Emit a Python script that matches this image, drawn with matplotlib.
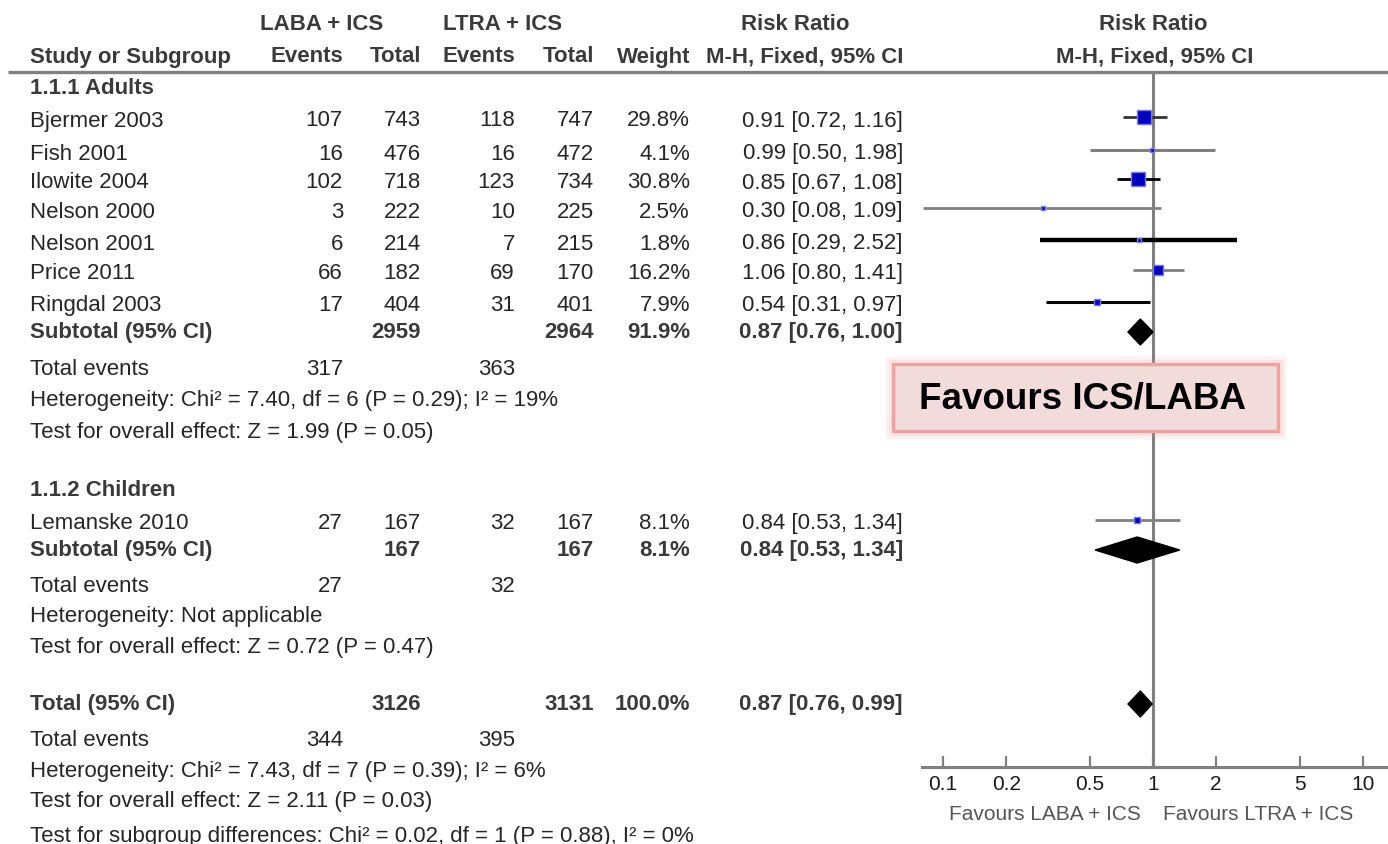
import numpy as np
from matplotlib import pyplot as plt
from matplotlib.patches import Polygon, FancyBboxPatch

plt.rcParams['font.family'] = ['Liberation Sans', 'DejaVu Sans']

# study level data, LABA + ICS vs LTRA + ICS
studies = ['Bjermer 2003', 'Fish 2001', 'Ilowite 2004', 'Nelson 2000',
           'Nelson 2001', 'Price 2011', 'Ringdal 2003']
laba_events = [107, 16, 102, 3, 6, 66, 17]
laba_total = [743, 476, 718, 222, 214, 182, 404]
ltra_events = [118, 16, 123, 10, 7, 69, 31]
ltra_total = [747, 472, 734, 225, 215, 170, 401]
weights = [29.8, 4.1, 30.8, 2.5, 1.8, 16.2, 7.9]
rr = [0.91, 0.99, 0.85, 0.30, 0.86, 1.06, 0.54]
rr_lo = [0.72, 0.50, 0.67, 0.08, 0.29, 0.80, 0.31]
rr_hi = [1.16, 1.98, 1.08, 1.09, 2.52, 1.41, 0.97]

child_study = 'Lemanske 2010'
child_data = dict(e1=27, n1=167, e2=32, n2=167, w=8.1, rr=0.84, lo=0.53, hi=1.34)

# pooled estimates: adults, children, overall
pooled_n1 = [2959, 167, 3126]
pooled_n2 = [2964, 167, 3131]
pooled_w = [91.9, 8.1, 100.0]
pooled_rr = [0.87, 0.84, 0.87]
pooled_lo = [0.76, 0.53, 0.76]
pooled_hi = [1.00, 1.34, 0.99]
pooled_ev1 = [317, 27, 344]
pooled_ev2 = [363, 32, 395]
het_text = ['Heterogeneity: Chi\u00b2 = 7.40, df = 6 (P = 0.29); I\u00b2 = 19%',
            'Heterogeneity: Not applicable',
            'Heterogeneity: Chi\u00b2 = 7.43, df = 7 (P = 0.39); I\u00b2 = 6%']
effect_text = ['Test for overall effect: Z = 1.99 (P = 0.05)',
               'Test for overall effect: Z = 0.72 (P = 0.47)',
               'Test for overall effect: Z = 2.11 (P = 0.03)']
subgroup_text = 'Test for subgroup differences: Chi\u00b2 = 0.02, df = 1 (P = 0.88), I\u00b2 = 0%'

ticks = [0.1, 0.2, 0.5, 1, 2, 5, 10]
tick_labels = ['0.1', '0.2', '0.5', '1', '2', '5', '10']

W, H = 1388, 845
fig = plt.figure(figsize=(W / 100, H / 100), dpi=100)

# layout axes in pixel units for the table part
lay = fig.add_axes([0, 0, 1, 1])
lay.set_xlim(0, W)
lay.set_ylim(H, 0)
lay.axis('off')

fs = 16
txt = '#262626'
bold_c = '#3a3a3a'
x_name, x_e1, x_n1, x_e2, x_n2, x_w, x_rr = 30, 343, 421, 515, 594, 690, 903


def row(y, name, e1='', n1='', e2='', n2='', w='', ci='', bold=False):
    fw = 'bold' if bold else 'normal'
    c = bold_c if bold else txt
    kw = dict(va='center', fontsize=fs, color=c, fontweight=fw)
    lay.text(x_name, y, name, ha='left', **kw)
    for x, s in [(x_e1, e1), (x_n1, n1), (x_e2, e2), (x_n2, n2), (x_w, w), (x_rr, ci)]:
        if s != '':
            lay.text(x, y, str(s), ha='right', **kw)


# header
hkw = dict(va='center', fontsize=fs, color=bold_c, fontweight='bold')
lay.text(322, 25, 'LABA + ICS', ha='center', **hkw)
lay.text(503, 25, 'LTRA + ICS', ha='center', **hkw)
lay.text(795, 25, 'Risk Ratio', ha='center', **hkw)
lay.text(1153, 25, 'Risk Ratio', ha='center', **hkw)
lay.text(x_name, 57, 'Study or Subgroup', ha='left', **hkw)
for x, s in [(x_e1, 'Events'), (x_n1, 'Total'), (x_e2, 'Events'), (x_n2, 'Total'),
             (x_w, 'Weight'), (x_rr, 'M-H, Fixed, 95% CI')]:
    lay.text(x, 57, s, ha='right', **hkw)
lay.text(1155, 57, 'M-H, Fixed, 95% CI', ha='center', **hkw)
lay.plot([8, W], [73, 73], color='#808080', lw=2.4, solid_capstyle='butt')

study_y = [118, 151, 180, 209, 241, 271, 303]
sub_y = [333, 551, 705]
child_y = 521
toff = 3


def fmt_ci(r, lo, hi):
    return f'{r:.2f} [{lo:.2f}, {hi:.2f}]'


row(88, '1.1.1 Adults', bold=True)
for i, s in enumerate(studies):
    row(study_y[i] + toff, s, laba_events[i], laba_total[i], ltra_events[i], ltra_total[i],
        f'{weights[i]:.1f}%', fmt_ci(rr[i], rr_lo[i], rr_hi[i]))
row(491, '1.1.2 Children', bold=True)
cd = child_data
row(child_y + toff, child_study, cd['e1'], cd['n1'], cd['e2'], cd['n2'], f"{cd['w']:.1f}%",
    fmt_ci(cd['rr'], cd['lo'], cd['hi']))

sub_names = ['Subtotal (95% CI)', 'Subtotal (95% CI)', 'Total (95% CI)']
summary_y = [(370, 401, 433), (587, 617, 648), (741, 772, 802)]
for k in range(3):
    row(sub_y[k], sub_names[k], '', pooled_n1[k], '', pooled_n2[k], f'{pooled_w[k]:.1f}%',
        fmt_ci(pooled_rr[k], pooled_lo[k], pooled_hi[k]), bold=True)
    ye, yh, yt = summary_y[k]
    row(ye, 'Total events', pooled_ev1[k], '', pooled_ev2[k])
    row(yh, het_text[k])
    row(yt, effect_text[k])
row(837, subgroup_text)

# forest plot axes, log scale, y in the same pixel rows
ax = fig.add_axes([922 / W, (H - 768) / H, (W - 922) / W, (768 - 73) / H])
ax.patch.set_alpha(0)
ax.set_xscale('log')
ax.set_xlim(0.0794, 13.15)
ax.set_ylim(768, 73)
for sp in ['top', 'left', 'right']:
    ax.spines[sp].set_visible(False)
ax.spines['bottom'].set_color('#808080')
ax.spines['bottom'].set_linewidth(2.2)
ax.set_yticks([])
ax.set_xticks(ticks)
ax.set_xticklabels(tick_labels)
ax.minorticks_off()
ax.tick_params(axis='x', direction='in', length=8, width=1.6, color='#808080',
               labelsize=15, labelcolor='#1a1a1a', pad=5)
ax.axvline(1, color='#808080', lw=2.2, zorder=1)

line_colors = ['#333333', '#808080', '#000000', '#808080', '#000000', '#808080', '#000000']
line_widths = [2.0, 2.2, 2.0, 2.0, 3.2, 2.0, 2.2]
for i in range(len(studies)):
    ax.plot([rr_lo[i], rr_hi[i]], [study_y[i], study_y[i]], color=line_colors[i],
            lw=line_widths[i], solid_capstyle='butt', zorder=2)
    side = 2.4 * np.sqrt(weights[i]) * 0.72
    ax.plot(rr[i], study_y[i], marker='s', ms=side, mfc='#0000c0', mec='#7a7ae6',
            mew=1.0, zorder=3)
ax.plot([cd['lo'], cd['hi']], [child_y, child_y], color='#808080', lw=2.0,
        solid_capstyle='butt', zorder=2)
ax.plot(cd['rr'], child_y, marker='s', ms=2.4 * np.sqrt(cd['w']) * 0.72, mfc='#0000c0',
        mec='#7a7ae6', mew=1.0, zorder=3)

dh = 13
for k in range(3):
    y = sub_y[k]
    pts = [(pooled_lo[k], y), (pooled_rr[k], y - dh), (pooled_hi[k], y), (pooled_rr[k], y + dh)]
    ax.add_patch(Polygon(pts, closed=True, fc='black', ec='black', lw=1, zorder=3))

lay.text(1141, 815, 'Favours LABA + ICS', ha='right', va='center', fontsize=15, color='#555555')
lay.text(1163, 815, 'Favours LTRA + ICS', ha='left', va='center', fontsize=15, color='#555555')

# highlighted callout box
bx, by, bw, bh = 893, 365, 385, 67
for pad, a in [(7, 0.06), (5, 0.1), (3, 0.18)]:
    fig.add_artist(FancyBboxPatch((bx - pad, by - pad), bw + 2 * pad, bh + 2 * pad,
                                  boxstyle='square,pad=0', fc='none', ec='#f08080',
                                  lw=2, alpha=a, transform=lay.transData, zorder=4))
fig.add_artist(FancyBboxPatch((bx, by), bw, bh, boxstyle='square,pad=0', fc='#f2dbdb',
                              ec='#f2a0a0', lw=2.5, transform=lay.transData, zorder=5))
fig.text(919, by + bh / 2 + 1, 'Favours ICS/LABA', ha='left', va='center', fontsize=26.5,
         fontweight='bold', color='black', transform=lay.transData, zorder=6)

fig.savefig('out.png', dpi=100)
